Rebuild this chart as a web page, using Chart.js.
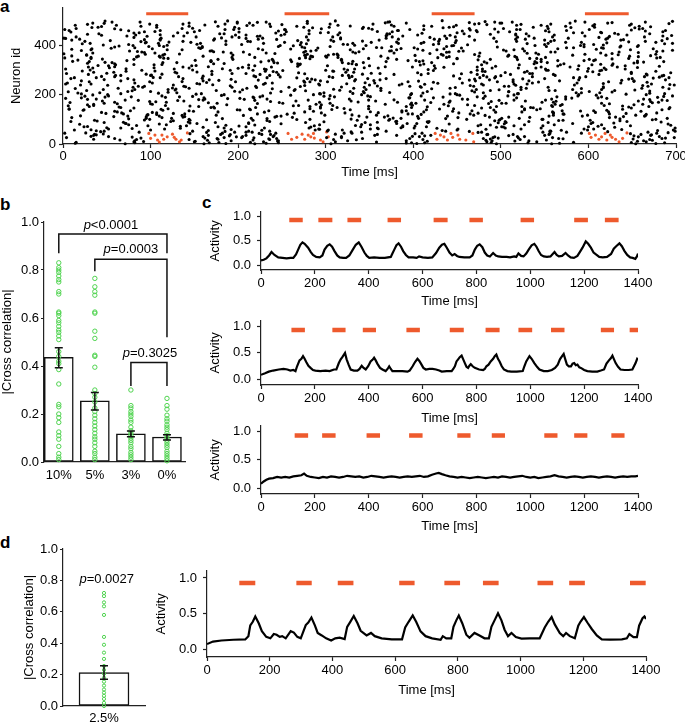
<!DOCTYPE html>
<html>
<head>
<meta charset="utf-8">
<script src="https://cdn.jsdelivr.net/npm/chart.js@4.4.0/dist/chart.umd.min.js"></script>
<style>
  body { margin: 0; background: #fff; width: 685px; height: 723px; position: relative; overflow: hidden; font-family: "Liberation Sans", Arial, sans-serif; }
  .panel { position: absolute; font-weight: bold; font-size: 17px; line-height: 17px; }
</style>
</head>
<body>
<div class="panel" style="left:0px;top:-2px">a</div>
<div class="panel" style="left:0px;top:196px">b</div>
<div class="panel" style="left:202px;top:194px">c</div>
<div class="panel" style="left:0px;top:534px">d</div>
<script>
// ---------- panel a: spike raster [time ms, neuron id] ----------
const rasterXTicks = [0, 100, 200, 300, 400, 500, 600, 700];
const rasterYTicks = [0, 200, 400];
const spikes0 = [[14,3],[15,7],[92,10],[65,16],[35,19],[89,24],[79,28],[32,31],[38,37],[46,41],[26,45],[43,50],[38,54],[32,58],[79,63],[50,66],[28,71],[84,75],[19,80],[71,84],[69,88],[39,93],[93,97],[75,102],[10,107],[58,111],[20,114],[97,119],[49,124],[44,128],[59,133],[23,137],[7,141],[81,146],[64,150],[6,155],[28,159],[62,163],[8,168],[99,172],[86,177],[28,181],[3,185],[48,190],[25,194],[34,199],[21,203],[17,207],[6,212],[79,216],[82,221],[14,225],[80,230],[86,234],[51,238],[32,243],[82,247],[30,252],[66,256],[47,261],[9,265],[38,269],[44,274],[60,278],[95,283],[50,287],[58,291],[22,296],[31,300],[72,305],[53,309],[59,313],[40,318],[81,322],[28,327],[48,331],[11,335],[17,340],[45,344],[2,349],[84,353],[10,357],[27,362],[1,366],[93,371],[85,375],[21,379],[10,384],[55,388],[59,393],[64,397],[46,401],[22,406],[94,410],[89,415],[54,419],[93,423],[3,428],[81,432],[96,437],[44,441],[28,445],[81,450],[9,454],[75,459],[66,463],[59,467],[33,472],[44,476],[61,481],[28,485],[47,489],[56,494],[48,498]];
const spikes0b = [[71,1],[82,5],[81,9],[82,13],[84,18],[59,22],[4,26],[52,30],[35,35],[36,39],[2,44],[87,48],[47,52],[13,57],[52,61],[66,65],[24,70],[97,74],[75,78],[72,83],[47,87],[9,91],[36,96],[99,100],[95,104],[95,109],[74,113],[96,117],[69,122],[67,126],[62,130],[77,135],[24,139],[7,143],[66,148],[30,152],[35,156],[35,161],[47,165],[59,169],[45,174],[71,178],[38,182],[21,187],[78,191],[52,195],[51,200],[66,204],[42,208],[74,213],[27,217],[46,221],[63,226],[91,230],[93,234],[20,239],[3,243],[5,247],[99,252],[21,256],[81,260],[74,265],[13,269],[59,273],[66,278],[29,282],[4,286],[35,291],[72,295],[90,299],[3,304],[34,308],[29,312],[52,317],[60,321],[59,325],[56,330],[30,334],[73,338],[81,343],[32,347],[32,351],[86,356],[27,360],[94,364],[34,369],[90,373],[76,377],[32,382],[33,386],[82,390],[98,395],[80,399],[75,403],[31,408],[95,412],[25,416],[10,421],[19,425],[1,429],[15,434],[73,438],[83,442],[41,447],[87,451],[93,455],[7,460],[2,464],[15,468],[40,473],[89,477],[14,481],[99,486],[34,490],[88,494]];
const spikes1 = [[186,2],[178,6],[151,11],[165,15],[177,19],[162,24],[198,29],[190,33],[191,38],[145,42],[164,47],[185,51],[166,55],[192,59],[134,64],[160,68],[134,72],[186,76],[110,81],[145,85],[143,89],[126,94],[164,98],[182,103],[113,107],[139,111],[136,116],[107,120],[126,124],[102,128],[149,133],[114,137],[112,141],[173,146],[172,150],[145,154],[187,159],[100,163],[166,167],[106,171],[131,176],[155,180],[188,184],[117,189],[148,193],[181,197],[152,202],[109,206],[120,210],[196,214],[128,219],[129,223],[125,227],[140,232],[191,236],[171,240],[153,245],[164,249],[136,253],[178,258],[192,262],[159,266],[103,270],[160,275],[101,279],[113,283],[130,288],[153,292],[105,296],[148,300],[182,305],[104,309],[166,313],[152,318],[113,322],[184,326],[114,330],[169,335],[151,339],[194,343],[115,348],[111,352],[160,356],[194,361],[133,365],[105,369],[172,374],[170,378],[136,382],[157,387],[159,391],[159,395],[119,400],[153,404],[109,408],[121,413],[186,417],[111,421],[173,426],[181,430],[193,434],[126,438],[111,443],[179,447],[131,451],[105,456],[111,460],[185,464],[148,469],[107,473],[144,477],[162,482],[137,486],[199,490],[174,495],[188,499]];
const spikes1b = [[161,1],[167,5],[150,9],[192,13],[144,18],[176,22],[184,26],[160,30],[166,35],[180,39],[182,44],[196,48],[148,52],[100,57],[116,61],[184,65],[177,70],[141,74],[118,78],[153,83],[174,87],[123,91],[145,96],[144,100],[124,104],[137,109],[110,113],[175,117],[139,122],[107,126],[177,130],[144,135],[199,139],[120,143],[169,148],[155,152],[117,156],[102,161],[176,165],[118,169],[138,174],[160,178],[162,182],[161,187],[133,191],[113,195],[184,200],[158,204],[130,208],[100,213],[175,217],[120,221],[144,226],[193,230],[138,234],[126,239],[156,243],[102,247],[197,252],[160,256],[167,260],[137,265],[111,269],[132,273],[100,278],[170,282],[193,286],[128,291],[170,295],[191,299],[127,304],[144,308],[137,312],[147,317],[104,321],[172,325],[130,330],[169,334],[169,338],[177,343],[120,347],[193,351],[110,356],[114,360],[116,364],[192,369],[183,373],[168,377],[119,382],[102,386],[155,390],[115,395],[110,399],[186,403],[157,408],[146,412],[137,416],[172,421],[111,425],[112,429],[152,434],[138,438],[197,442],[184,447],[142,451],[150,455],[156,460],[195,464],[136,468],[196,473],[177,477],[107,481],[185,486],[144,490],[199,494]];
const spikes2 = [[232,3],[214,7],[245,12],[217,16],[235,21],[218,25],[205,30],[241,34],[227,39],[224,43],[209,48],[212,52],[227,56],[293,60],[281,65],[283,69],[201,73],[219,77],[249,82],[212,86],[298,90],[233,95],[267,99],[233,103],[262,108],[244,112],[206,116],[256,121],[264,125],[230,129],[286,133],[202,138],[213,142],[294,146],[294,151],[263,155],[295,159],[222,164],[247,168],[237,172],[219,177],[207,181],[202,185],[217,190],[298,194],[260,198],[294,203],[237,207],[202,211],[277,216],[205,220],[239,224],[221,229],[271,233],[276,237],[229,242],[231,246],[276,250],[275,255],[223,259],[284,263],[267,268],[248,272],[218,276],[246,281],[276,285],[269,289],[240,294],[251,298],[232,302],[200,307],[205,311],[268,315],[212,320],[271,324],[245,328],[226,333],[235,337],[260,341],[282,346],[277,350],[285,354],[277,359],[213,363],[242,367],[275,372],[277,376],[289,380],[260,385],[291,389],[273,393],[263,398],[271,402],[278,406],[272,411],[214,415],[268,419],[244,424],[209,428],[201,432],[222,437],[249,441],[253,445],[243,450],[201,454],[246,458],[254,463],[295,467],[285,471],[237,476],[210,480],[250,484],[279,489],[222,493],[279,497]];
const spikes2b = [[219,1],[246,5],[229,9],[246,13],[236,18],[244,22],[204,26],[240,30],[209,35],[237,39],[243,44],[216,48],[236,52],[288,57],[292,61],[230,65],[209,70],[287,74],[293,78],[212,83],[277,87],[236,91],[217,96],[282,100],[215,104],[242,109],[249,113],[299,117],[222,122],[295,126],[276,130],[235,135],[214,139],[282,143],[220,148],[282,152],[269,156],[289,161],[251,165],[293,169],[266,174],[280,178],[233,182],[218,187],[225,191],[228,195],[286,200],[293,204],[298,208],[249,213],[264,217],[265,221],[210,226],[258,230],[220,234],[293,239],[292,243],[239,247],[282,252],[294,256],[288,260],[279,265],[233,269],[220,273],[236,278],[225,282],[209,286],[244,291],[231,295],[217,299],[230,304],[212,308],[238,312],[219,317],[270,321],[268,325],[241,330],[261,334],[240,338],[239,343],[270,347],[219,351],[283,356],[276,360],[279,364],[232,369],[206,373],[283,377],[228,382],[223,386],[276,390],[246,395],[248,399],[204,403],[229,408],[253,412],[211,416],[280,421],[223,425],[228,429],[278,434],[225,438],[209,442],[281,447],[294,451],[255,455],[281,460],[253,464],[201,468],[275,473],[267,477],[217,481],[236,486],[213,490],[232,494]];
const spikes3 = [[392,4],[358,8],[392,13],[335,17],[342,22],[301,26],[399,31],[356,35],[311,40],[321,44],[329,49],[302,53],[319,57],[360,62],[386,66],[340,70],[334,75],[341,79],[381,83],[359,88],[381,92],[336,96],[329,101],[377,105],[347,109],[371,114],[330,118],[399,122],[360,127],[351,131],[387,135],[307,140],[321,144],[313,148],[349,153],[399,157],[397,161],[398,166],[337,170],[329,174],[378,179],[304,183],[395,187],[351,192],[305,196],[397,200],[331,205],[373,209],[328,213],[316,218],[309,222],[363,226],[318,231],[359,235],[350,239],[324,244],[345,248],[394,252],[355,257],[334,261],[369,265],[308,270],[330,274],[326,278],[342,283],[352,287],[323,291],[308,296],[325,300],[333,304],[344,309],[368,313],[350,317],[335,322],[326,326],[319,330],[331,335],[318,339],[381,343],[371,348],[301,352],[300,356],[303,361],[313,365],[378,369],[338,374],[375,378],[328,382],[386,387],[358,391],[375,395],[333,400],[320,404],[383,408],[381,413],[342,417],[306,421],[317,426],[317,430],[376,434],[369,439],[314,443],[373,447],[303,452],[359,456],[382,460],[353,465],[349,469],[304,473],[328,478],[375,482],[354,486],[368,491],[373,495],[311,499]];
const spikes3b = [[306,1],[398,5],[311,9],[325,13],[309,18],[396,22],[318,26],[318,30],[381,35],[359,39],[330,44],[341,48],[369,52],[303,57],[351,61],[359,65],[388,70],[388,74],[351,78],[393,83],[345,87],[380,91],[372,96],[373,100],[386,104],[367,109],[338,113],[358,117],[394,122],[322,126],[387,130],[392,135],[328,139],[349,143],[398,148],[392,152],[308,156],[368,161],[305,165],[382,169],[357,174],[349,178],[327,182],[396,187],[310,191],[348,195],[341,200],[398,204],[344,208],[343,213],[363,217],[346,221],[332,226],[344,230],[396,234],[384,239],[387,243],[356,247],[302,252],[333,256],[362,260],[348,265],[327,269],[304,273],[319,278],[378,282],[362,286],[332,291],[309,295],[300,299],[321,304],[360,308],[399,312],[302,317],[335,321],[330,325],[343,330],[369,334],[394,338],[318,343],[349,347],[314,351],[363,356],[314,360],[309,364],[334,369],[331,373],[373,377],[381,382],[343,386],[364,390],[305,395],[346,399],[325,403],[331,408],[352,412],[309,416],[361,421],[383,425],[369,429],[308,434],[388,438],[370,442],[370,447],[316,451],[376,455],[383,460],[396,464],[342,468],[343,473],[378,477],[314,481],[305,486],[392,490],[371,494]];
const spikes4 = [[404,2],[489,6],[416,11],[483,15],[488,20],[497,24],[493,29],[413,33],[484,38],[402,42],[474,47],[464,51],[433,55],[483,60],[427,64],[495,68],[402,73],[488,77],[441,81],[497,86],[416,90],[493,94],[499,99],[437,103],[451,107],[405,112],[482,116],[409,120],[474,125],[494,129],[445,133],[492,138],[430,142],[478,146],[416,151],[440,155],[462,159],[486,164],[420,168],[489,172],[498,177],[462,181],[480,185],[434,190],[482,194],[453,198],[442,203],[411,207],[470,211],[467,216],[498,220],[421,224],[448,229],[408,233],[465,237],[413,242],[428,246],[423,250],[406,255],[464,259],[470,263],[493,268],[484,272],[446,276],[409,281],[455,285],[405,289],[482,294],[423,298],[417,302],[425,307],[435,311],[494,315],[408,320],[412,324],[484,328],[481,333],[411,337],[474,341],[450,346],[428,350],[441,354],[402,359],[470,363],[419,367],[438,372],[452,376],[411,380],[405,385],[455,389],[496,393],[444,398],[462,402],[429,406],[448,411],[495,415],[449,419],[430,424],[438,428],[419,432],[464,437],[442,441],[488,445],[410,449],[497,454],[456,458],[465,462],[493,466],[434,471],[446,475],[412,479],[484,484],[475,488],[464,492],[482,496],[433,500]];
const spikes4b = [[495,1],[413,5],[484,9],[490,13],[411,18],[480,22],[491,26],[407,30],[420,35],[485,39],[410,44],[478,48],[437,52],[450,57],[451,61],[401,65],[415,70],[474,74],[477,78],[404,83],[417,87],[418,91],[498,96],[461,100],[406,104],[487,109],[439,113],[469,117],[465,122],[452,126],[412,130],[467,135],[415,139],[446,143],[488,148],[495,152],[470,156],[435,161],[403,165],[441,169],[442,174],[413,178],[456,182],[423,187],[473,191],[409,195],[450,200],[448,204],[480,208],[416,213],[488,217],[472,221],[442,226],[409,230],[469,234],[480,239],[478,243],[456,247],[496,252],[471,256],[487,260],[453,265],[476,269],[494,273],[480,278],[473,282],[417,286],[466,291],[479,295],[473,299],[479,304],[490,308],[473,312],[424,317],[478,321],[446,325],[421,330],[407,334],[403,338],[488,343],[450,347],[438,351],[475,356],[434,360],[432,364],[476,369],[441,373],[457,377],[427,382],[435,386],[401,390],[438,395],[446,399],[423,403],[409,408],[412,412],[429,416],[470,421],[424,425],[492,429],[448,434],[436,438],[405,442],[458,447],[450,451],[473,455],[472,460],[412,464],[464,468],[441,473],[421,477],[449,481],[470,486],[499,490],[493,494]];
const spikes5 = [[567,3],[583,7],[516,12],[552,16],[571,21],[520,25],[519,30],[509,34],[514,39],[556,43],[548,48],[556,52],[569,56],[523,61],[546,65],[503,69],[548,74],[561,78],[504,82],[554,87],[532,91],[566,95],[548,100],[521,104],[533,108],[593,113],[560,117],[572,121],[560,126],[524,130],[591,134],[541,139],[527,143],[537,147],[524,152],[558,156],[570,160],[506,165],[560,169],[563,173],[515,178],[558,182],[581,186],[574,191],[588,195],[515,199],[520,204],[592,208],[509,212],[562,217],[582,221],[592,225],[554,230],[509,234],[517,238],[515,243],[536,247],[543,251],[567,256],[589,260],[525,264],[590,269],[536,273],[500,277],[511,282],[533,286],[505,290],[530,295],[554,299],[588,303],[520,308],[546,312],[565,316],[521,321],[538,325],[541,329],[546,334],[595,338],[519,342],[541,347],[551,351],[516,355],[509,360],[543,364],[530,368],[557,373],[527,377],[503,381],[565,386],[575,390],[595,394],[591,399],[595,403],[530,407],[592,412],[518,416],[561,420],[517,425],[538,429],[519,433],[532,438],[561,442],[517,446],[593,451],[510,455],[551,459],[518,464],[554,468],[580,472],[574,477],[546,481],[523,485],[579,490],[596,494],[585,498]];
const spikes5b = [[558,1],[531,5],[541,9],[532,13],[522,18],[566,22],[559,26],[527,30],[550,35],[555,39],[592,44],[575,48],[557,52],[599,57],[595,61],[505,65],[501,70],[515,74],[527,78],[582,83],[506,87],[505,91],[571,96],[547,100],[501,104],[509,109],[555,113],[599,117],[571,122],[560,126],[559,130],[570,135],[527,139],[545,143],[534,148],[559,152],[568,156],[562,161],[501,165],[547,169],[528,174],[551,178],[574,182],[518,187],[564,191],[508,195],[589,200],[519,204],[586,208],[509,213],[555,217],[523,221],[529,226],[523,230],[504,234],[584,239],[530,243],[587,247],[514,252],[532,256],[514,260],[550,265],[583,269],[597,273],[562,278],[560,282],[536,286],[527,291],[599,295],[552,299],[551,304],[540,308],[579,312],[589,317],[568,321],[572,325],[553,330],[539,334],[565,338],[546,343],[533,347],[518,351],[508,356],[582,360],[596,364],[540,369],[562,373],[506,377],[515,382],[525,386],[583,390],[552,395],[539,399],[550,403],[554,408],[574,412],[557,416],[550,421],[528,425],[577,429],[559,434],[596,438],[517,442],[529,447],[583,451],[555,455],[575,460],[522,464],[503,468],[537,473],[553,477],[518,481],[557,486],[501,490],[513,494]];
const spikes6 = [[677,2],[649,6],[656,11],[673,15],[651,20],[688,24],[657,29],[652,33],[672,37],[648,42],[691,46],[622,50],[679,55],[638,59],[618,63],[630,68],[611,72],[694,76],[691,81],[629,85],[683,89],[636,94],[673,98],[636,102],[624,107],[640,111],[665,115],[666,120],[643,124],[608,128],[660,133],[621,137],[639,141],[649,146],[646,150],[639,154],[652,159],[624,163],[673,167],[671,172],[690,176],[670,180],[621,185],[679,189],[686,193],[609,198],[643,202],[670,206],[627,211],[670,215],[653,219],[692,224],[617,228],[617,232],[662,237],[693,241],[617,245],[667,250],[652,254],[638,258],[646,263],[674,267],[681,271],[684,276],[667,280],[666,284],[694,289],[605,293],[613,297],[620,302],[600,306],[656,310],[681,315],[627,319],[614,323],[652,328],[663,332],[656,336],[608,341],[627,345],[678,349],[657,354],[671,358],[634,362],[627,367],[657,371],[678,375],[696,380],[609,384],[617,388],[636,393],[637,397],[617,401],[687,406],[621,410],[646,414],[684,419],[640,423],[690,427],[612,432],[624,436],[695,440],[634,445],[630,449],[614,453],[665,458],[649,462],[658,466],[653,471],[671,475],[605,479],[607,484],[692,488],[627,492],[696,497]];
const spikes6b = [[654,1],[687,5],[666,9],[663,13],[670,18],[684,22],[698,26],[681,30],[671,35],[660,39],[678,44],[668,48],[699,52],[697,57],[606,61],[699,65],[600,70],[648,74],[615,78],[603,83],[605,87],[644,91],[602,96],[677,100],[690,104],[631,109],[664,113],[654,117],[624,122],[678,126],[623,130],[606,135],[684,139],[692,143],[693,148],[669,152],[618,156],[662,161],[615,165],[680,169],[657,174],[684,178],[663,182],[611,187],[615,191],[696,195],[666,200],[687,204],[613,208],[601,213],[630,217],[615,221],[661,226],[685,230],[668,234],[698,239],[672,243],[637,247],[623,252],[652,256],[688,260],[650,265],[692,269],[664,273],[686,278],[612,282],[649,286],[649,291],[677,295],[615,299],[642,304],[618,308],[633,312],[642,317],[604,321],[628,325],[656,330],[686,334],[606,338],[601,343],[646,347],[682,351],[647,356],[620,360],[677,364],[614,369],[635,373],[685,377],[648,382],[674,386],[615,390],[656,395],[657,399],[606,403],[696,408],[677,412],[665,416],[637,421],[620,425],[622,429],[664,434],[685,438],[644,442],[670,447],[615,451],[685,455],[688,460],[601,464],[662,468],[607,473],[658,477],[647,481],[649,486],[622,490],[665,494]];
const stimSpikes = [[98,43],[100,23],[105,36],[108,16],[110,8],[113,36],[115,19],[119,29],[125,40],[127,27],[129,19],[133,9],[135,16],[142,45],
  [257,43],[261,19],[267,27],[273,40],[276,19],[280,36],[283,29],[286,43],[287,24],[294,16],[297,9],[301,49],[303,29],
  [425,43],[427,19],[431,36],[435,29],[439,16],[443,43],[445,27],[451,36],[453,19],[460,16],[468,43],[469,9],
  [601,43],[603,27],[608,36],[612,19],[615,29],[619,43],[621,16],[625,36],[627,27],[631,19],[635,9],[639,23],[644,45]];
const rasterStim = [[95, 143], [253, 304], [421, 470], [596, 646]];
const rasterStimLevel = 528;

// ---------- panel b: |cross correlation| per stimulation fraction ----------
const corrLabels = ['10%', '5%', '3%', '0%'];
const corrMeans = [0.436, 0.255, 0.117, 0.104];
const corrErrLow = [0.393, 0.217, 0.105, 0.092];
const corrErrHigh = [0.476, 0.290, 0.129, 0.114];
const corr10 = [0.83,0.81,0.80,0.79,0.775,0.76,0.75,0.71,0.70,0.625,0.62,0.61,0.59,0.58,0.565,0.55,0.54,0.525,0.51,0.46,0.44,0.42,0.41,0.385,0.325,0.24,0.23,0.20,0.185,0.165,0.125,0.11,0.095,0.065,0.035,0.02,0.01];
const corr5 = [0.765,0.73,0.71,0.695,0.625,0.62,0.545,0.515,0.445,0.44,0.395,0.30,0.285,0.27,0.25,0.225,0.21,0.195,0.18,0.165,0.15,0.135,0.12,0.105,0.095,0.08,0.065,0.045,0.035,0.02,0.01];
const corr3 = [0.30,0.235,0.225,0.21,0.20,0.19,0.175,0.165,0.145,0.13,0.12,0.11,0.10,0.09,0.08,0.065,0.055,0.04,0.03,0.02,0.01];
const corr0 = [0.265,0.235,0.22,0.195,0.18,0.17,0.155,0.145,0.135,0.12,0.11,0.10,0.09,0.08,0.07,0.06,0.045,0.035,0.025,0.015,0.005];
const corrYTicks = [0, 0.2, 0.4, 0.6, 0.8, 1.0];

// ---------- panel c: population activity traces [time ms, activity] ----------
const timeTicks = [0, 200, 400, 600, 800, 1000, 1200, 1400];
const activityTicks = [0, 0.5, 1.0];
const traceC1 = [[0,0.10],[10,0.11],[20,0.14],[30,0.2],[39,0.27],[50,0.21],[64,0.16],[80,0.15],[95,0.14],[110,0.15],[120,0.15],[130,0.22],[138,0.32],[146,0.42],[154,0.47],[162,0.44],[175,0.36],[185,0.27],[193,0.21],[205,0.17],[218,0.16],[228,0.2],[236,0.32],[246,0.4],[255,0.43],[264,0.38],[273,0.29],[283,0.2],[292,0.16],[305,0.15],[316,0.15],[328,0.2],[341,0.32],[352,0.42],[363,0.47],[373,0.38],[384,0.26],[393,0.19],[402,0.15],[420,0.16],[440,0.15],[460,0.15],[482,0.17],[488,0.24],[495,0.32],[503,0.41],[511,0.45],[520,0.38],[528,0.29],[538,0.21],[548,0.16],[565,0.16],[578,0.15],[587,0.18],[600,0.16],[620,0.15],[636,0.16],[650,0.25],[662,0.36],[672,0.42],[681,0.44],[690,0.36],[700,0.26],[710,0.2],[719,0.23],[728,0.19],[737,0.17],[755,0.16],[775,0.16],[785,0.2],[794,0.32],[803,0.4],[812,0.43],[822,0.37],[831,0.26],[840,0.2],[850,0.18],[862,0.25],[872,0.2],[881,0.18],[895,0.17],[912,0.17],[925,0.16],[940,0.18],[948,0.17],[956,0.24],[966,0.19],[975,0.18],[985,0.24],[994,0.32],[1005,0.41],[1015,0.44],[1023,0.38],[1031,0.29],[1040,0.21],[1050,0.18],[1062,0.17],[1075,0.18],[1090,0.27],[1098,0.21],[1106,0.18],[1118,0.19],[1131,0.25],[1140,0.2],[1150,0.16],[1162,0.15],[1175,0.19],[1185,0.28],[1194,0.36],[1206,0.49],[1215,0.44],[1225,0.36],[1235,0.26],[1244,0.22],[1256,0.17],[1269,0.16],[1285,0.17],[1300,0.23],[1310,0.34],[1319,0.39],[1331,0.45],[1340,0.39],[1350,0.29],[1360,0.21],[1371,0.16],[1380,0.15],[1390,0.13],[1396,0.18],[1400,0.24]];
const traceC2 = [[0,0.09],[15,0.12],[29,0.15],[45,0.17],[66,0.19],[84,0.2],[98,0.19],[109,0.17],[120,0.18],[128,0.16],[134,0.25],[143,0.36],[150,0.39],[156,0.44],[162,0.39],[168,0.33],[176,0.26],[184,0.22],[193,0.18],[202,0.17],[220,0.16],[240,0.17],[255,0.16],[271,0.19],[280,0.19],[289,0.31],[296,0.38],[302,0.42],[312,0.5],[318,0.38],[326,0.27],[333,0.19],[345,0.17],[358,0.17],[366,0.2],[374,0.26],[381,0.22],[389,0.19],[398,0.25],[407,0.34],[414,0.37],[420,0.41],[426,0.36],[432,0.3],[442,0.22],[451,0.19],[463,0.16],[470,0.2],[476,0.25],[482,0.2],[488,0.16],[505,0.16],[525,0.16],[544,0.15],[552,0.17],[563,0.25],[572,0.33],[581,0.39],[588,0.35],[594,0.3],[603,0.22],[612,0.19],[625,0.2],[637,0.2],[650,0.19],[662,0.17],[671,0.15],[690,0.16],[708,0.16],[714,0.2],[720,0.25],[726,0.34],[732,0.38],[738,0.42],[745,0.45],[751,0.38],[757,0.31],[763,0.24],[769,0.22],[774,0.26],[779,0.29],[786,0.25],[794,0.22],[810,0.19],[825,0.18],[831,0.2],[837,0.25],[845,0.28],[853,0.34],[862,0.39],[868,0.44],[874,0.47],[880,0.39],[886,0.34],[894,0.25],[902,0.19],[915,0.16],[929,0.15],[950,0.15],[972,0.16],[978,0.25],[985,0.34],[991,0.39],[997,0.44],[1005,0.39],[1015,0.31],[1025,0.24],[1034,0.19],[1050,0.16],[1065,0.16],[1080,0.18],[1092,0.22],[1102,0.28],[1110,0.38],[1118,0.44],[1124,0.48],[1130,0.38],[1136,0.28],[1143,0.25],[1151,0.25],[1157,0.3],[1163,0.31],[1169,0.27],[1175,0.28],[1182,0.23],[1188,0.22],[1200,0.18],[1212,0.16],[1230,0.15],[1249,0.15],[1262,0.17],[1274,0.19],[1283,0.3],[1292,0.36],[1299,0.4],[1305,0.45],[1311,0.38],[1317,0.31],[1326,0.24],[1335,0.19],[1350,0.18],[1365,0.18],[1379,0.19],[1385,0.25],[1391,0.31],[1397,0.39],[1400,0.38]];
const traceC3 = [[0,0.08],[10,0.12],[20,0.15],[30,0.17],[45,0.18],[60,0.2],[75,0.19],[90,0.2],[105,0.19],[120,0.21],[135,0.22],[150,0.23],[160,0.26],[170,0.22],[185,0.2],[200,0.19],[215,0.18],[230,0.2],[245,0.19],[260,0.21],[275,0.2],[290,0.19],[305,0.2],[320,0.22],[335,0.21],[350,0.2],[365,0.21],[380,0.19],[395,0.2],[410,0.22],[425,0.21],[440,0.2],[455,0.19],[470,0.2],[485,0.21],[500,0.2],[515,0.19],[530,0.2],[545,0.21],[560,0.2],[575,0.21],[590,0.22],[605,0.2],[620,0.21],[635,0.24],[650,0.26],[660,0.27],[672,0.25],[685,0.23],[700,0.21],[715,0.2],[730,0.19],[745,0.2],[760,0.19],[775,0.18],[790,0.19],[805,0.2],[820,0.19],[835,0.18],[850,0.19],[865,0.2],[880,0.19],[895,0.21],[910,0.2],[925,0.19],[940,0.2],[955,0.21],[970,0.22],[985,0.2],[1000,0.19],[1015,0.2],[1030,0.18],[1045,0.19],[1060,0.2],[1075,0.21],[1090,0.23],[1105,0.21],[1120,0.2],[1135,0.19],[1150,0.2],[1165,0.21],[1180,0.2],[1195,0.19],[1210,0.2],[1225,0.21],[1240,0.2],[1255,0.19],[1270,0.2],[1285,0.21],[1300,0.2],[1315,0.19],[1330,0.2],[1345,0.21],[1360,0.2],[1375,0.21],[1390,0.21],[1400,0.22]];
const stimC1 = [[105,155],[213,265],[321,372],[470,520],[641,693],[774,824],[964,1014],[1163,1214],[1277,1328]];
const stimC2 = [[113,163],[265,314],[378,427],[540,590],[701,753],[834,886],[956,1007],[1077,1127],[1262,1311],[1369,1400]];
const stimC3 = [[125,175],[227,277],[392,442],[550,600],[729,778],[857,906],[1052,1101],[1163,1212],[1301,1350]];

// ---------- panel d ----------
const corr25 = [0.72,0.70,0.66,0.635,0.58,0.44,0.39,0.34,0.30,0.255,0.23,0.205,0.18,0.155,0.13,0.105,0.085,0.065,0.045,0.02,0.0];
const corr25Mean = 0.213;
const corr25Err = [0.17, 0.256];
const traceD = [[0,0.08],[19,0.115],[46,0.13],[84,0.14],[122,0.145],[132,0.19],[138,0.34],[146,0.39],[154,0.465],[165,0.37],[175,0.26],[189,0.18],[202,0.16],[213,0.22],[222,0.21],[232,0.18],[240,0.19],[251,0.16],[267,0.26],[277,0.24],[288,0.18],[299,0.16],[315,0.345],[323,0.38],[333,0.45],[344,0.34],[353,0.235],[366,0.2],[380,0.16],[396,0.13],[409,0.16],[423,0.17],[439,0.15],[447,0.32],[457,0.39],[468,0.47],[480,0.37],[490,0.265],[509,0.2],[523,0.235],[535,0.19],[557,0.16],[589,0.146],[622,0.146],[632,0.31],[643,0.39],[656,0.478],[667,0.39],[681,0.257],[697,0.19],[718,0.16],[745,0.14],[752,0.19],[763,0.16],[779,0.16],[786,0.32],[795,0.41],[803,0.478],[814,0.37],[827,0.21],[837,0.168],[853,0.235],[869,0.2],[885,0.16],[899,0.16],[907,0.32],[917,0.41],[928,0.51],[939,0.41],[949,0.28],[960,0.19],[971,0.235],[985,0.177],[1003,0.155],[1029,0.16],[1061,0.16],[1077,0.31],[1088,0.39],[1099,0.456],[1109,0.354],[1125,0.235],[1136,0.19],[1145,0.235],[1157,0.19],[1173,0.16],[1184,0.336],[1191,0.39],[1202,0.456],[1213,0.38],[1227,0.29],[1243,0.2],[1259,0.146],[1285,0.142],[1323,0.146],[1339,0.16],[1347,0.22],[1360,0.177],[1371,0.177],[1378,0.336],[1389,0.44],[1395,0.465],[1400,0.43]];
const stimD = [[103,154],[285,334],[417,467],[613,662],[757,807],[880,930],[1054,1104],[1155,1205],[1349,1399]];
const stimLevel = 0.93;

// ---------- styling ----------
const FONT = '"Liberation Sans", Arial, sans-serif';
const AXIS = '#222';
const ORANGE = '#ee5a2d';
const GREEN = '#4fd34f';

// place a canvas so that the plot area lands on [x0,y0]-[x1,y1] of the page
function makeChart(plot, m, cfg) {
  const [x0, y0, x1, y1] = plot;
  const w = x1 - x0 + m.l + m.r, h = y1 - y0 + m.t + m.b;
  const c = document.createElement('canvas');
  c.width = w; c.height = h;
  c.style.cssText = `position:absolute;left:${x0 - m.l}px;top:${y0 - m.t}px;width:${w}px;height:${h}px`;
  document.body.appendChild(c);
  cfg.options = Object.assign({
    responsive: false, animation: false, events: [],
    layout: { padding: { left: 0, top: m.t, right: m.r, bottom: 0 } },
    plugins: { legend: { display: false }, tooltip: { enabled: false } }
  }, cfg.options);
  cfg.options.scales.x.afterFit = s => { s.height = m.b; };
  cfg.options.scales.y.afterFit = s => { s.width = m.l; };
  return new Chart(c, cfg);
}

function axis(o) {
  return {
    type: 'linear', min: o.min, max: o.max, offset: false,
    afterBuildTicks: s => { s.ticks = o.ticks.map(v => ({ value: v })); },
    grid: { drawOnChartArea: false, offset: false, drawTicks: o.tl > 0, tickLength: o.tl || 0, tickColor: AXIS, tickWidth: 1.2 },
    border: { color: AXIS, width: 1.2 },
    ticks: { color: '#000', font: { family: FONT, size: 13 }, padding: o.pad, autoSkip: false, maxRotation: 0, callback: o.fmt },
    title: o.title ? { display: true, text: o.title, color: '#000', font: { family: FONT, size: 13 }, padding: o.tpad } : { display: false }
  };
}

function stimSegments(list, level) {
  const out = [];
  list.forEach(([s, e]) => { out.push({ x: s, y: level }, { x: e, y: level }, { x: e, y: null }); });
  return out;
}

function drawP(ctx, rest, cx, cy) {
  ctx.font = `italic 13px ${FONT}`;
  const w1 = ctx.measureText('p').width;
  ctx.font = `13px ${FONT}`;
  const w2 = ctx.measureText(rest).width;
  const x = cx - (w1 + w2) / 2;
  ctx.fillStyle = '#000'; ctx.textAlign = 'left'; ctx.textBaseline = 'middle';
  ctx.font = `italic 13px ${FONT}`; ctx.fillText('p', x, cy);
  ctx.font = `13px ${FONT}`; ctx.fillText(rest, x + w1, cy);
}

// error bars, brackets and p labels drawn through the chart scales
function extrasPlugin(errLow, errHigh, brackets, pLabels) {
  return {
    id: 'extras',
    afterDatasetsDraw(chart) {
      const { ctx, scales: { x, y } } = chart;
      ctx.save();
      ctx.strokeStyle = '#111'; ctx.lineWidth = 1.5;
      errLow.forEach((lo, i) => {
        const px = x.getPixelForValue(i), a = y.getPixelForValue(lo), b = y.getPixelForValue(errHigh[i]);
        ctx.beginPath();
        ctx.moveTo(px, a); ctx.lineTo(px, b);
        ctx.moveTo(px - 4, a); ctx.lineTo(px + 4, a);
        ctx.moveTo(px - 4, b); ctx.lineTo(px + 4, b);
        ctx.stroke();
      });
      brackets.forEach(([xl, xr, top, bl, brt]) => {
        const l = x.getPixelForValue(xl), r = x.getPixelForValue(xr), t = y.getPixelForValue(top);
        ctx.beginPath();
        ctx.moveTo(l, y.getPixelForValue(bl)); ctx.lineTo(l, t); ctx.lineTo(r, t); ctx.lineTo(r, y.getPixelForValue(brt));
        ctx.stroke();
      });
      pLabels.forEach(([vx, vy, txt]) => drawP(ctx, txt, x.getPixelForValue(vx), y.getPixelForValue(vy)));
      ctx.restore();
    }
  };
}

// ---------- panel a ----------
const rasterBlack = [spikes0, spikes0b, spikes1, spikes1b, spikes2, spikes2b, spikes3, spikes3b, spikes4, spikes4b, spikes5, spikes5b, spikes6, spikes6b].flat();
makeChart([63, 6, 676, 144], { l: 63, t: 9, r: 16, b: 40 }, {
  type: 'scatter',
  data: { datasets: [
    { data: rasterBlack.map(([t, n]) => ({ x: t, y: n })), pointRadius: 1.55, backgroundColor: '#000', borderWidth: 0, clip: false },
    { data: stimSpikes.map(([t, n]) => ({ x: t, y: n })), pointRadius: 1.55, backgroundColor: ORANGE, borderWidth: 0, clip: false },
    { type: 'line', data: stimSegments(rasterStim, rasterStimLevel), borderColor: ORANGE, borderWidth: 3, borderCapStyle: 'butt', pointRadius: 0, spanGaps: false, clip: false }
  ] },
  options: { scales: {
    x: axis({ min: 0, max: 700, ticks: rasterXTicks, tl: 4, pad: 1, fmt: v => String(v), title: 'Time [ms]', tpad: { top: 0, bottom: 4 } }),
    y: axis({ min: 0, max: 552, ticks: rasterYTicks, tl: 4, pad: 3, fmt: v => String(v), title: 'Neuron id', tpad: { top: 9, bottom: 0 } })
  } }
});

// ---------- panel b ----------
const corrGroups = [corr10, corr5, corr3, corr0];
makeChart([44, 222, 185, 462], { l: 44, t: 20, r: 16, b: 30 }, {
  type: 'bar',
  data: { datasets: [
    { data: corrMeans.map((v, i) => ({ x: i, y: v })), backgroundColor: '#fff', borderColor: '#111', borderWidth: 1.5, borderSkipped: false, barThickness: 29, order: 2 },
    { type: 'scatter', data: corrGroups.flatMap((g, i) => g.map(v => ({ x: i, y: v }))), pointRadius: 2.2, borderWidth: 1, borderColor: GREEN, backgroundColor: 'rgba(0,0,0,0)', order: 1, clip: false }
  ] },
  options: { scales: {
    x: axis({ min: -0.41, max: 3.5, ticks: [0, 1, 2, 3], tl: 0, pad: 6, fmt: v => corrLabels[v] }),
    y: axis({ min: 0, max: 1, ticks: corrYTicks, tl: 3, pad: 2, fmt: v => v.toFixed(1), title: '|Cross correlation|', tpad: { top: 0, bottom: 0 } })
  } },
  plugins: [extrasPlugin(corrErrLow, corrErrHigh,
    [[0, 3, 0.95, 0.87, 0.87], [1, 3, 0.845, 0.795, 0.52], [2, 3, 0.415, 0.317, 0.317]],
    [[1.446, 0.985, '<0.0001'], [2.0, 0.8875, '=0.0003'], [2.53, 0.454, '=0.3025']])]
});

// ---------- panel c ----------
function traceChart(plot, m, trace, stim, titlePad) {
  return makeChart(plot, m, {
    type: 'line',
    data: { datasets: [
      { data: trace.map(([t, v]) => ({ x: t, y: v })), borderColor: '#000', borderWidth: 2.2, pointRadius: 0, tension: 0 },
      { data: stimSegments(stim, stimLevel), borderColor: ORANGE, borderWidth: 4.5, borderCapStyle: 'butt', pointRadius: 0, spanGaps: false, clip: false }
    ] },
    options: { scales: {
      x: axis({ min: 0, max: 1400, ticks: timeTicks, tl: 4, pad: 2, fmt: v => String(v), title: 'Time [ms]', tpad: { top: 0, bottom: titlePad } }),
      y: axis({ min: -0.1, max: 1.1, ticks: activityTicks, tl: 4, pad: 6, fmt: v => v.toFixed(1), title: 'Activity', tpad: { top: m.l - 53, bottom: 0 } })
    } }
  });
}
traceChart([261, 208, 638, 270], { l: 61, t: 10, r: 20, b: 44 }, traceC1, stimC1, 4.5);
traceChart([261, 317, 638, 385], { l: 61, t: 10, r: 20, b: 44 }, traceC2, stimC2, 3);
traceChart([261, 422, 638, 494], { l: 61, t: 10, r: 20, b: 44 }, traceC3, stimC3, 3.5);

// ---------- panel d ----------
makeChart([63, 549, 145, 706], { l: 63, t: 12, r: 16, b: 17 }, {
  type: 'bar',
  data: { datasets: [
    { data: [{ x: 0, y: corr25Mean }], backgroundColor: '#fff', borderColor: '#111', borderWidth: 1.5, borderSkipped: false, barThickness: 50, order: 2 },
    { type: 'scatter', data: corr25.map(v => ({ x: 0, y: v })), pointRadius: 1.6, borderWidth: 1, borderColor: GREEN, backgroundColor: 'rgba(0,0,0,0)', order: 1, clip: false }
  ] },
  options: { scales: {
    x: axis({ min: -0.82, max: 0.82, ticks: [0], tl: 0, pad: 5, fmt: () => '2.5%' }),
    y: axis({ min: 0, max: 1, ticks: corrYTicks, tl: 3, pad: 2, fmt: v => v.toFixed(1), title: '|Cross correlation|', tpad: { top: 22, bottom: 0 } })
  } },
  plugins: [extrasPlugin([corr25Err[0]], [corr25Err[1]], [], [[0.054, 0.807, '=0.0027']])]
});
traceChart([207, 567, 646, 657], { l: 55, t: 10, r: 20, b: 44 }, traceD, stimD, 3);
</script>
</body>
</html>
